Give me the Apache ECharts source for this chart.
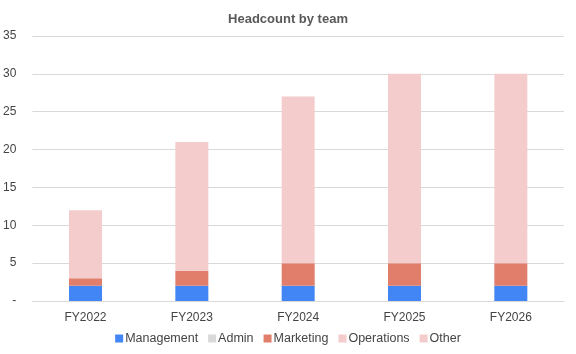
<!DOCTYPE html>
<html>
<head>
<meta charset="utf-8">
<script src="https://cdn.jsdelivr.net/npm/echarts@6/dist/echarts.min.js"></script>
<style>
  html, body { margin: 0; padding: 0; background: #fff; }
  #chart { width: 576px; height: 354px; }
</style>
</head>
<body>
<div id="chart"></div>
<script>
    // 数据
    var years = ['FY2022', 'FY2023', 'FY2024', 'FY2025', 'FY2026'];
    var management = [2, 2, 2, 2, 2];
    var admin = [0, 0, 0, 0, 0];
    var marketing = [1, 2, 3, 3, 3];
    var operations = [9, 17, 22, 25, 25];
    var other = [0, 0, 0, 0, 0];
    var yTicks = [0, 5, 10, 15, 20, 25, 30, 35];

    var myChart = echarts.init(document.getElementById('chart'));

    function bar(name, data, color) {
        return {
            name: name,
            type: 'bar',
            stack: 'total',
            data: data,
            barWidth: 33,
            itemStyle: { color: color },
            emphasis: { disabled: true }
        };
    }

    var option = {
        animation: false,
        textStyle: { fontFamily: 'Liberation Sans, Arial, sans-serif' },
        title: {
            text: 'Headcount by team',
            left: 'center',
            top: 8,
            textStyle: { fontSize: 13, fontWeight: 'bold', color: '#595959' }
        },
        legend: {
            bottom: 4,
            itemWidth: 8,
            itemHeight: 8,
            itemGap: 10,
            icon: 'rect',
            textStyle: { fontSize: 12.5, color: '#444', padding: [0, 0, 0, -3] },
            data: ['Management', 'Admin', 'Marketing', 'Operations', 'Other']
        },
        grid: { left: 31, right: 12, top: 36, bottom: 53, containLabel: false },
        xAxis: {
            type: 'category',
            data: years,
            axisLine: { show: true, lineStyle: { color: '#d9d9d9' } },
            axisTick: { show: false },
            axisLabel: { color: '#444', fontSize: 12, margin: 11 }
        },
        yAxis: {
            type: 'value',
            min: yTicks[0],
            max: yTicks[yTicks.length - 1],
            interval: 5,
            axisLine: { show: false },
            axisTick: { show: false },
            splitLine: { lineStyle: { color: '#d9d9d9' } },
            axisLabel: {
                color: '#444',
                fontSize: 12,
                margin: 16,
                formatter: function (v) { return v === 0 ? '-' : String(v); }
            }
        },
        series: [
            bar('Management', management, '#4285f4'),
            bar('Admin', admin, '#d9d9d9'),
            bar('Marketing', marketing, '#e07e6b'),
            bar('Operations', operations, '#f4cccc'),
            bar('Other', other, '#f4cccc')
        ]
    };

    myChart.setOption(option);
</script>
</body>
</html>
